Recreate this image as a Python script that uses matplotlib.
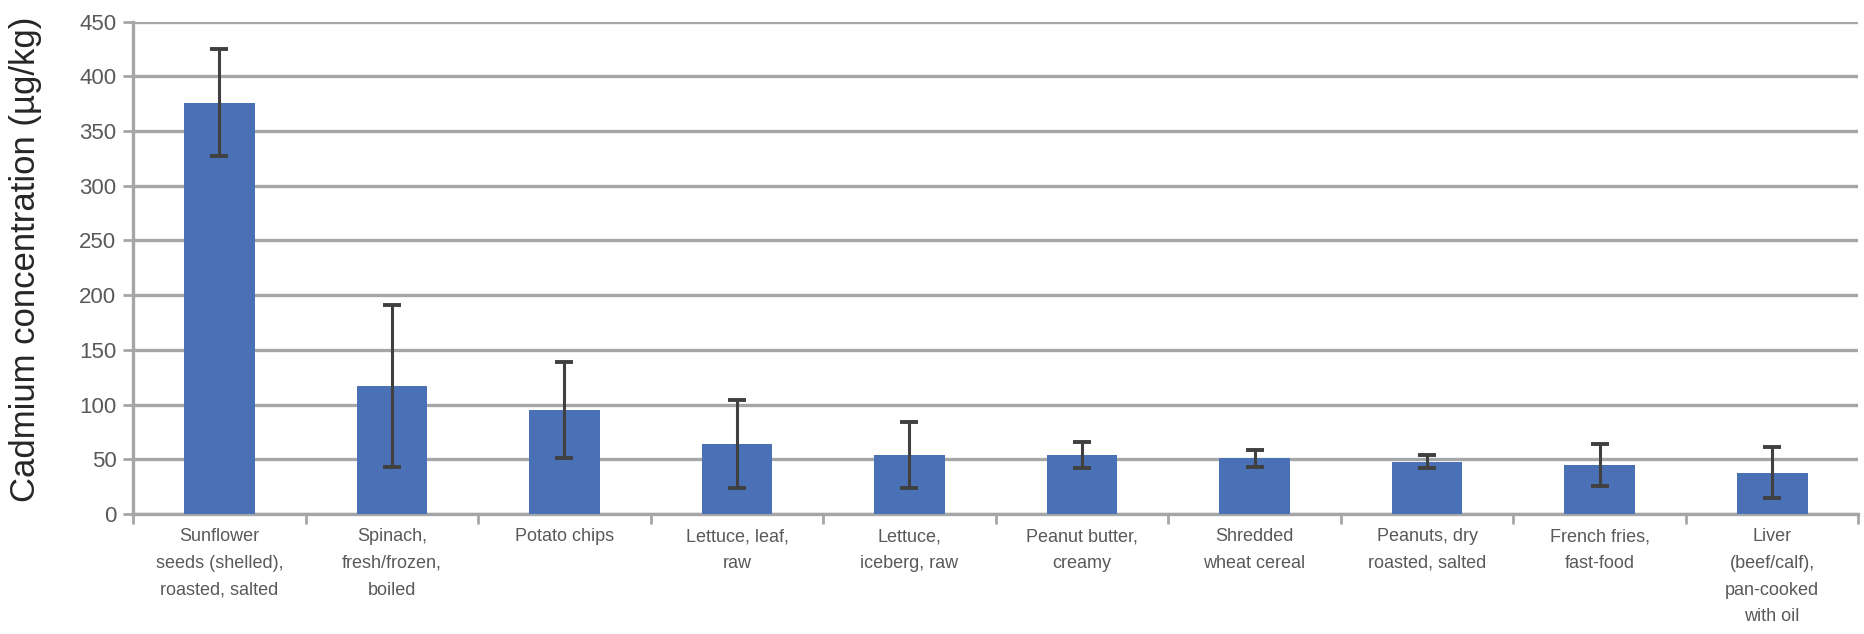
import numpy as np
import matplotlib
matplotlib.use("Agg")
import matplotlib.pyplot as plt

plt.rcParams["font.family"] = ["Liberation Sans", "DejaVu Sans"]

foods = [
    "Sunflower\nseeds (shelled),\nroasted, salted",
    "Spinach,\nfresh/frozen,\nboiled",
    "Potato chips",
    "Lettuce, leaf,\nraw",
    "Lettuce,\niceberg, raw",
    "Peanut butter,\ncreamy",
    "Shredded\nwheat cereal",
    "Peanuts, dry\nroasted, salted",
    "French fries,\nfast-food",
    "Liver\n(beef/calf),\npan-cooked\nwith oil",
]
cadmium = [376, 117, 95, 64, 54, 54, 51, 48, 45, 38]
cadmium_sd = [49, 74, 44, 40, 30, 12, 8, 6, 19, 23]
yticks = [0, 50, 100, 150, 200, 250, 300, 350, 400, 450]

grid_col = "#a4a6a8"
text_col = "#595959"

fig = plt.figure(figsize=(18.64, 6.34), dpi=100)
ax = fig.add_axes([0.0714, 0.189, 0.9256, 0.777])

x = np.arange(len(foods))
ax.bar(x, cadmium, width=0.41, color="#4a71b5", zorder=3)
ax.errorbar(x, cadmium, yerr=cadmium_sd, fmt="none", ecolor="#404040",
            elinewidth=2.2, capsize=6.5, capthick=2.8, zorder=4)

ax.set_xlim(-0.5, len(foods) - 0.5)
ax.set_ylim(0, 450)
ax.set_yticks(yticks)
ax.yaxis.grid(True, color=grid_col, linewidth=2.4, zorder=0)
ax.set_axisbelow(True)

# category labels centred, tick marks on the boundaries
ax.set_xticks(x)
ax.set_xticklabels(foods, fontsize=13, color=text_col, linespacing=1.75)
ax.tick_params(axis="x", which="major", length=0, pad=10)
ax.set_xticks(np.arange(len(foods) + 1) - 0.5, minor=True)
ax.tick_params(axis="x", which="minor", length=7, width=2, color=grid_col)
ax.tick_params(axis="y", length=7, width=2, color=grid_col, pad=5,
               labelsize=16, labelcolor=text_col)

for s in ["top", "right"]:
    ax.spines[s].set_visible(False)
for s in ["left", "bottom"]:
    ax.spines[s].set_color(grid_col)
    ax.spines[s].set_linewidth(2.4)

ax.set_ylabel("Cadmium concentration (µg/kg)", fontsize=25, color="#262626")
ax.yaxis.set_label_coords(-0.053, 0.518)

fig.savefig("out.png", dpi=100)
